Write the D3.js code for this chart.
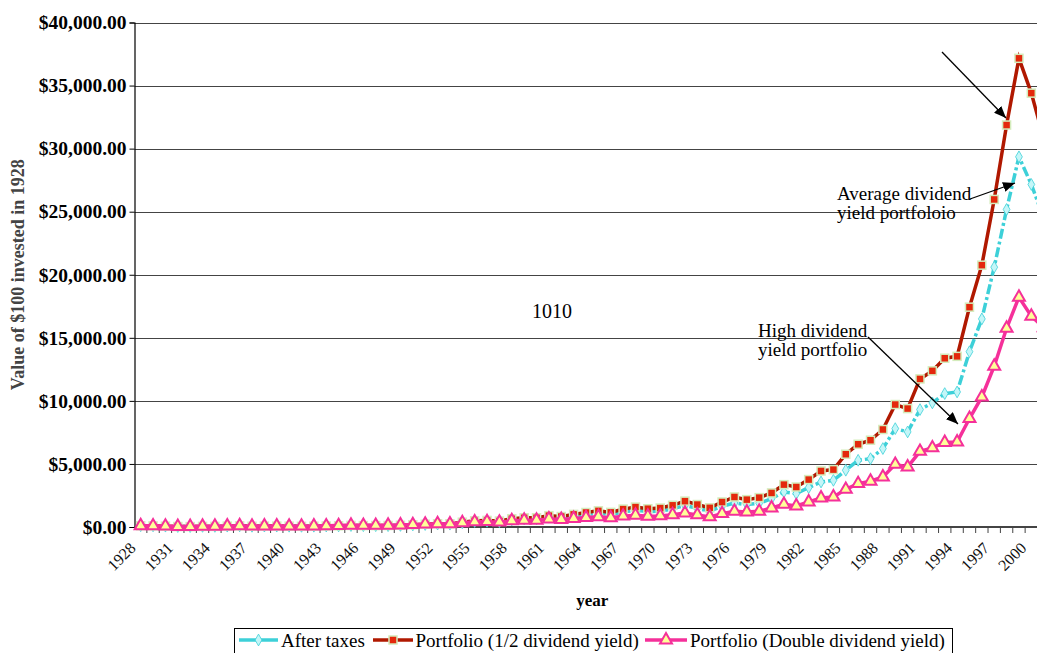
<!DOCTYPE html>
<html><head><meta charset="utf-8">
<script src="https://cdn.jsdelivr.net/npm/d3@7"></script>
<style>
html,body{margin:0;padding:0;background:#fff;overflow:hidden}
svg{display:block}
text{font-family:'Liberation Serif','Times New Roman',serif}
</style></head><body>
<svg id="chart" width="1037" height="653"></svg>
<script>
const years = [1928,1929,1930,1931,1932,1933,1934,1935,1936,1937,1938,1939,1940,1941,1942,1943,1944,1945,1946,1947,1948,1949,1950,1951,1952,1953,1954,1955,1956,1957,1958,1959,1960,1961,1962,1963,1964,1965,1966,1967,1968,1969,1970,1971,1972,1973,1974,1975,1976,1977,1978,1979,1980,1981,1982,1983,1984,1985,1986,1987,1988,1989,1990,1991,1992,1993,1994,1995,1996,1997,1998,1999,2000,2001];
const afterTaxes = [100,89,65,36,32,48,46,66,86,54,69,67,59,51,59,73,85,113,102,104,106,123,160,195,230,225,335,430,455,410,565,635,632,775,712,855,980,1090,985,1200,1330,1220,1260,1440,1710,1480,1250,1640,1900,1780,1880,2250,2780,2650,3125,3570,3700,4500,5290,5420,6220,7800,7540,9310,9840,10580,10710,13900,16500,20600,25180,29350,27160,24500];
const halfYield = [100,90,66,37,33,50,48,69,90,57,73,71,63,55,64,79,93,124,112,115,118,137,180,220,260,255,380,490,520,470,650,730,730,900,830,1000,1150,1280,1160,1420,1580,1450,1500,1720,2050,1780,1520,1980,2380,2170,2330,2700,3360,3170,3760,4440,4550,5770,6560,6880,7730,9710,9390,11740,12380,13380,13530,17430,20760,25970,31870,37160,34400,30800];
const doubleYield = [100,92,72,42,39,58,57,80,104,67,85,84,75,67,78,95,110,143,130,134,139,160,195,225,255,250,340,410,425,385,500,540,540,640,595,680,750,810,730,860,930,850,880,970,1100,960,800,1060,1245,1190,1245,1510,1800,1670,1980,2300,2380,2990,3440,3630,3970,4970,4760,6000,6270,6700,6740,8600,10310,12750,15760,18220,16715,15800];
const yTicks = [0,5000,10000,15000,20000,25000,30000,35000,40000];
const xTickLabels = [1928,1931,1934,1937,1940,1943,1946,1949,1952,1955,1958,1961,1964,1967,1970,1973,1976,1979,1982,1985,1988,1991,1994,1997,2000];
const seriesNames = ["After taxes","Portfolio (1/2 dividend yield)","Portfolio (Double dividend yield)"];
const yTitle = "Value of $100 invested in 1928";
const xTitle = "year";

const svg = d3.select("#chart");
const L = 134.5, T = 22.5, B = 527;
const bw = 12.37;
const x = d3.scaleBand().domain(years).range([L, L + years.length * bw]).padding(0);
const cx = d => x(d) + x.bandwidth() / 2;
const y = d3.scaleLinear().domain([0, 40000]).range([B, T]);
const R = 1037;

// gridlines
svg.append("g").selectAll("line").data(yTicks.filter(d => d > 0)).join("line")
  .attr("x1", L).attr("x2", R)
  .attr("y1", d => Math.round(y(d)) + 0.5).attr("y2", d => Math.round(y(d)) + 0.5)
  .attr("stroke", "#444").attr("stroke-width", 1);

// y axis
const yAxis = svg.append("g").attr("transform", `translate(${L},0)`)
  .call(d3.axisLeft(y).tickValues(yTicks).tickSize(5).tickPadding(3)
    .tickFormat(d => "$" + d3.format(",.2f")(d)));
yAxis.select(".domain").attr("stroke", "#000").attr("stroke-width", 1.2);
yAxis.selectAll(".tick line").attr("stroke", "#000");
yAxis.selectAll("text").attr("font-size", 19.5).attr("font-weight", "bold")
  .attr("fill", "#000").style("font-family", "'Liberation Serif', serif");

// x axis
const xg = svg.append("g");
xg.append("line").attr("x1", L).attr("x2", R).attr("y1", B).attr("y2", B)
  .attr("stroke", "#444").attr("stroke-width", 2);
xg.selectAll("line.tk").data(years).join("line").attr("class", "tk")
  .attr("x1", d => x(d) + x.bandwidth()).attr("x2", d => x(d) + x.bandwidth())
  .attr("y1", B).attr("y2", B + 6).attr("stroke", "#444").attr("stroke-width", 1);
xg.selectAll("text").data(xTickLabels).join("text")
  .attr("transform", d => `translate(${cx(d) - 4},${B + 22}) rotate(-45)`)
  .attr("text-anchor", "end").attr("font-size", 16).attr("fill", "#111")
  .text(d => d);

// titles
svg.append("text").attr("transform", `translate(24,${(T + B) / 2}) rotate(-90)`)
  .attr("text-anchor", "middle").attr("font-size", 18).attr("font-weight", "bold")
  .attr("fill", "#444").text(yTitle);
svg.append("text").attr("x", (L + L + years.length * bw) / 2).attr("y", 606)
  .attr("text-anchor", "middle").attr("font-size", 17).attr("font-weight", "bold")
  .attr("fill", "#000").text(xTitle);

// series
const line = d3.line().x((d, i) => cx(years[i])).y(d => y(d));
const cyan = "#3dd0d8", red = "#b01800", pink = "#f5309a";

svg.append("path").datum(afterTaxes).attr("d", line).attr("fill", "none")
  .attr("stroke", cyan).attr("stroke-width", 3.5).attr("stroke-dasharray", "10,3,3,3");
svg.append("g").selectAll("path").data(afterTaxes).join("path")
  .attr("transform", (d, i) => `translate(${cx(years[i])},${y(d)})`)
  .attr("d", d3.symbol(d3.symbolDiamond, 40)).attr("fill", "#c4f6f8").attr("stroke", cyan).attr("stroke-width", 0.8);

svg.append("path").datum(halfYield).attr("d", line).attr("fill", "none")
  .attr("stroke", red).attr("stroke-width", 3.5);
svg.append("g").selectAll("rect").data(halfYield).join("rect")
  .attr("x", (d, i) => cx(years[i]) - 4).attr("y", d => y(d) - 4)
  .attr("width", 8).attr("height", 8).attr("fill", "#e4280c").attr("stroke", "#d4ecbc").attr("stroke-width", 1.5);

svg.append("path").datum(doubleYield).attr("d", line).attr("fill", "none")
  .attr("stroke", pink).attr("stroke-width", 3.5);
svg.append("g").selectAll("path").data(doubleYield).join("path")
  .attr("transform", (d, i) => `translate(${cx(years[i])},${y(d)})`)
  .attr("d", d3.symbol(d3.symbolTriangle, 62)).attr("fill", "#ffff99").attr("stroke", pink).attr("stroke-width", 2);

// annotations
const defs = svg.append("defs");
defs.append("marker").attr("id", "ah").attr("viewBox", "0 0 12 10").attr("refX", 12).attr("refY", 5)
  .attr("markerWidth", 12).attr("markerHeight", 10).attr("markerUnits", "userSpaceOnUse").attr("orient", "auto")
  .append("path").attr("d", "M0,0 L12,5 L0,10 Z").attr("fill", "#000");
const arrows = [[942, 52, 1006, 118], [970, 199, 1015, 183], [868, 337, 958, 424]];
svg.append("g").selectAll("line").data(arrows).join("line")
  .attr("x1", d => d[0]).attr("y1", d => d[1]).attr("x2", d => d[2]).attr("y2", d => d[3])
  .attr("stroke", "#000").attr("stroke-width", 1.3).attr("marker-end", "url(#ah)");

const notes = [
  {x: 837, y: 200, lines: ["Average dividend", "yield portfoloio"]},
  {x: 758, y: 337, lines: ["High dividend", "yield portfolio"]}
];
notes.forEach(n => {
  const t = svg.append("text").attr("x", n.x).attr("y", n.y).attr("font-size", 19).attr("fill", "#000");
  n.lines.forEach((s, i) => t.append("tspan").attr("x", n.x).attr("dy", i ? 19 : 0).text(s));
});
svg.append("text").attr("x", 532).attr("y", 318).attr("font-size", 20).attr("fill", "#000").text("1010");

// legend
const lg = svg.append("g");
lg.append("rect").attr("x", 234.5).attr("y", 628.5).attr("width", 718).attr("height", 40)
  .attr("fill", "#fff").attr("stroke", "#000").attr("stroke-width", 1);
const items = [
  {x0: 239, x1: 278, tx: 281, c: cyan, kind: "d"},
  {x0: 373, x1: 413, tx: 415.5, c: red, kind: "s"},
  {x0: 645, x1: 687, tx: 690, c: pink, kind: "t"}
];
items.forEach((it, i) => {
  const ly = 640;
  lg.append("line").attr("x1", it.x0).attr("x2", it.x1).attr("y1", ly).attr("y2", ly)
    .attr("stroke", it.c).attr("stroke-width", 3.5);
  const mx = (it.x0 + it.x1) / 2;
  if (it.kind === "d") lg.append("path").attr("transform", `translate(${mx},${ly})`)
    .attr("d", d3.symbol(d3.symbolDiamond, 40)).attr("fill", "#c4f6f8").attr("stroke", cyan).attr("stroke-width", 0.8);
  if (it.kind === "s") lg.append("rect").attr("x", mx - 4).attr("y", ly - 4).attr("width", 8).attr("height", 8)
    .attr("fill", "#e4280c").attr("stroke", "#d4ecbc").attr("stroke-width", 1.5);
  if (it.kind === "t") lg.append("path").attr("transform", `translate(${mx},${ly})`)
    .attr("d", d3.symbol(d3.symbolTriangle, 62)).attr("fill", "#ffff99").attr("stroke", pink).attr("stroke-width", 2);
  lg.append("text").attr("x", it.tx).attr("y", 647).attr("font-size", 19).attr("fill", "#000").text(seriesNames[i]);
});
</script>
</body></html>
